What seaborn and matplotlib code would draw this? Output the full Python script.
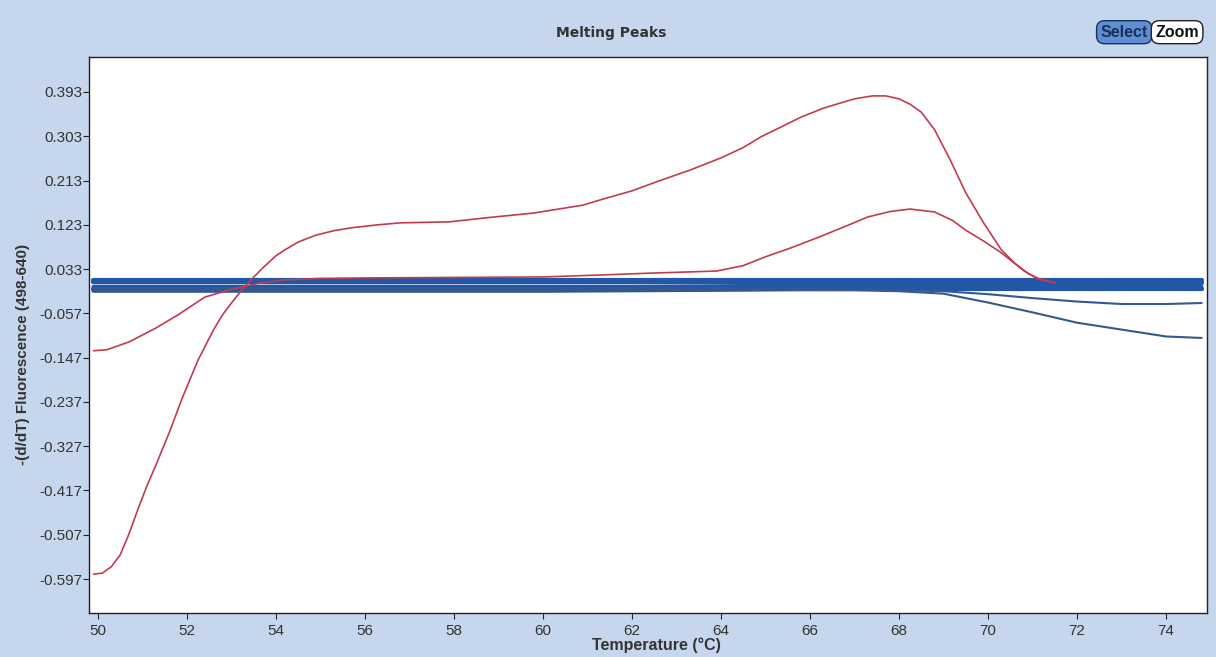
import numpy as np
import pandas as pd
import matplotlib
matplotlib.use("Agg")
import matplotlib.pyplot as plt
import seaborn as sns

# ---------------- data ----------------
# Sample 1 (large melting curve)
r1_temp = [49.9, 50.1, 50.3, 50.5, 50.7, 50.9, 51.1, 51.3, 51.6, 51.9, 52.25, 52.6,
           52.8, 53.0, 53.3, 53.7, 54.0, 54.2, 54.5, 54.9, 55.3, 55.7, 56.3, 56.8,
           57.9, 58.7, 59.8, 60.9, 61.3, 62.0, 62.6, 63.3, 64.0, 64.5, 64.9, 65.4,
           65.8, 66.3, 66.7, 67.0, 67.4, 67.7, 68.0, 68.25, 68.5, 68.8, 69.15, 69.5,
           69.9, 70.3, 70.6, 70.9, 71.2, 71.5]
r1_val = [-0.587, -0.585, -0.572, -0.548, -0.505, -0.455, -0.408, -0.366, -0.300,
          -0.228, -0.152, -0.090, -0.060, -0.036, -0.002, 0.035, 0.060, 0.072,
          0.088, 0.102, 0.111, 0.117, 0.123, 0.127, 0.129, 0.137, 0.147, 0.163,
          0.174, 0.192, 0.212, 0.234, 0.259, 0.280, 0.302, 0.324, 0.342, 0.360,
          0.371, 0.379, 0.385, 0.385, 0.379, 0.368, 0.352, 0.316, 0.255, 0.188,
          0.127, 0.072, 0.045, 0.024, 0.011, 0.005]

# Sample 2 (small melting curve)
r2_temp = [49.9, 50.2, 50.7, 51.3, 51.8, 52.4, 53.0, 53.6, 54.2, 55.0, 56.0, 58.0,
           60.0, 61.3, 62.5, 63.9, 64.5, 65.0, 65.6, 66.2, 66.8, 67.3, 67.8, 68.25,
           68.8, 69.2, 69.5, 69.9, 70.3, 70.8, 71.1, 71.5]
r2_val = [-0.133, -0.131, -0.115, -0.087, -0.060, -0.024, -0.008, 0.004, 0.011,
          0.014, 0.015, 0.016, 0.017, 0.021, 0.025, 0.029, 0.040, 0.058, 0.077,
          0.098, 0.120, 0.139, 0.150, 0.155, 0.149, 0.132, 0.112, 0.090, 0.066,
          0.030, 0.014, 0.005]

# Negative controls (blue)
b_temp = [49.9, 52, 54, 56, 58, 60, 62, 64, 65, 66, 67, 68, 69, 70, 71, 72, 73, 74, 74.8]
blue_a = [0.010] * 19
blue_b = [0.006] * 19
blue_c = [-0.003, -0.003, -0.003, -0.003, -0.003, -0.003, -0.003, -0.002, -0.001,
          0.000, 0.001, 0.002, 0.003, 0.003, 0.003, 0.003, 0.003, 0.003, 0.003]
blue_d = [-0.007] * 19
blue_e = [-0.011, -0.011, -0.011, -0.011, -0.011, -0.011, -0.010, -0.009, -0.008,
          -0.007, -0.006, -0.005, -0.004, -0.004, -0.004, -0.004, -0.004, -0.004, -0.004]
blue_f = [-0.006, -0.006, -0.006, -0.006, -0.006, -0.006, -0.006, -0.006, -0.006,
          -0.007, -0.009, -0.010, -0.012, -0.018, -0.026, -0.033, -0.038, -0.038, -0.036]
blue_g = [-0.010, -0.010, -0.010, -0.010, -0.010, -0.010, -0.010, -0.010, -0.010,
          -0.010, -0.010, -0.012, -0.017, -0.035, -0.055, -0.076, -0.090, -0.104, -0.107]

x_ticks = [50, 52, 54, 56, 58, 60, 62, 64, 66, 68, 70, 72, 74]
y_ticks = [0.393, 0.303, 0.213, 0.123, 0.033, -0.057, -0.147, -0.237, -0.327,
           -0.417, -0.507, -0.597]

# ---------------- style ----------------
sns.set_theme(style="white")
plt.rcParams['font.family'] = ['Liberation Sans', 'DejaVu Sans']
plt.rcParams['axes.unicode_minus'] = False

BG = "#c6d6ec"
RED = "#c23b4e"
BLUE = "#2257a8"
BLUE_DARK = "#35598e"
TXT = "#333333"

fig = plt.figure(figsize=(12.16, 6.57), dpi=100, facecolor=BG)
ax = fig.add_axes([0.0732, 0.0670, 0.9194, 0.8462])
ax.set_facecolor("white")

band = [blue_a, blue_b, blue_c, blue_d, blue_e]
for s in band:
    sns.lineplot(x=b_temp, y=s, ax=ax, color=BLUE, linewidth=3.0,
                 estimator=None, sort=False, legend=False)
for s in (blue_f, blue_g):
    sns.lineplot(x=b_temp, y=s, ax=ax, color=BLUE_DARK, linewidth=1.5,
                 estimator=None, sort=False, legend=False)

sns.lineplot(x=r1_temp, y=r1_val, ax=ax, color=RED, linewidth=1.2,
             estimator=None, sort=False, legend=False)
sns.lineplot(x=r2_temp, y=r2_val, ax=ax, color=RED, linewidth=1.2,
             estimator=None, sort=False, legend=False)

ax.set_xlim(49.8, 74.92)
ax.set_ylim(-0.666, 0.464)
ax.set_xticks(x_ticks)
ax.set_xticklabels([str(t) for t in x_ticks])
ax.set_yticks(y_ticks)
ax.set_yticklabels([f"{t:.3f}" for t in y_ticks])
ax.tick_params(axis='both', which='both', direction='out', length=4, width=0.8,
               colors="#222222", labelcolor=TXT, labelsize=11, left=True, bottom=True)
ax.tick_params(axis='x', pad=4)
ax.tick_params(axis='y', pad=1)
for sp in ax.spines.values():
    sp.set_color("#222222")
    sp.set_linewidth(1.0)
ax.set_xlabel("")
ax.set_ylabel("")

fig.text(0.540, 0.018, "Temperature (°C)", ha="center", va="center",
         fontsize=11.5, fontweight="bold", color=TXT)
fig.text(0.019, 0.46, "-(d/dT) Fluorescence (498-640)", ha="center", va="center",
         rotation=90, fontsize=11, fontweight="bold", color=TXT)
fig.text(0.503, 0.950, "Melting Peaks", ha="center", va="center",
         fontsize=10, fontweight="bold", color=TXT, family=['DejaVu Sans'])

fig.text(0.9245, 0.951, "Select", ha="center", va="center", fontsize=11.5,
         fontweight="bold", color="#1a2f5a",
         bbox=dict(boxstyle="round,pad=0.25,rounding_size=0.5", fc="#5d8fd2",
                   ec="#1a2f5a", lw=1.0))
fig.text(0.968, 0.951, "Zoom", ha="center", va="center", fontsize=11.5,
         fontweight="bold", color="#111111",
         bbox=dict(boxstyle="round,pad=0.25,rounding_size=0.5", fc="white",
                   ec="#222222", lw=1.0))

fig.savefig("out.png", dpi=100, facecolor=BG)
